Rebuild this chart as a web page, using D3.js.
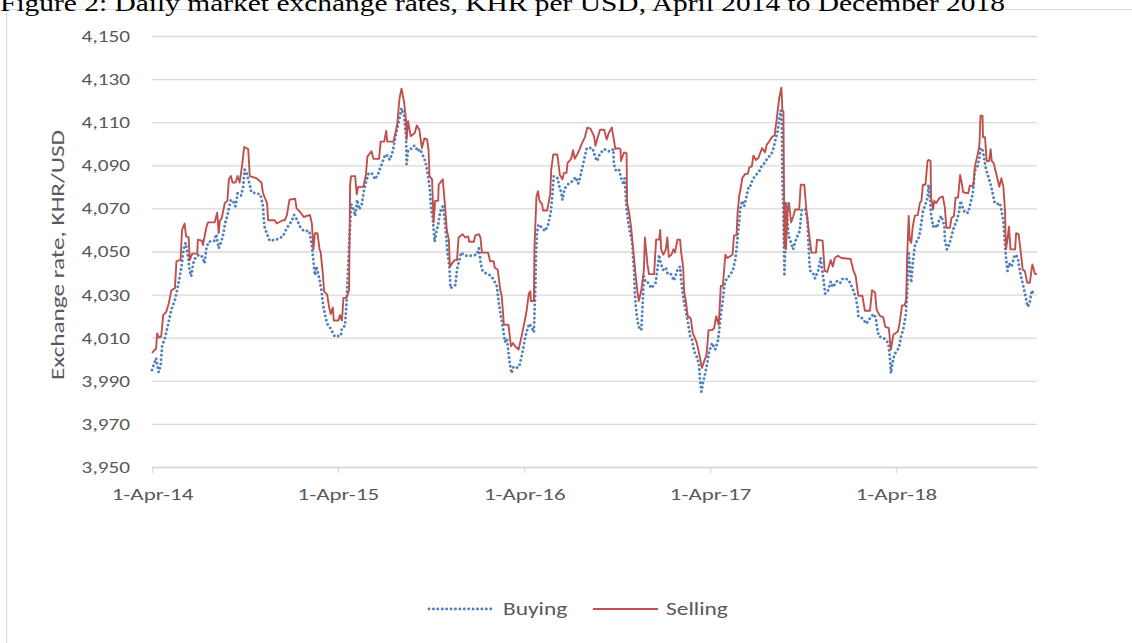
<!DOCTYPE html>
<html><head><meta charset="utf-8">
<script src="https://cdn.jsdelivr.net/npm/d3@7"></script>
<style>
body{margin:0;background:#fff;}
svg{display:block;}
</style></head>
<body>
<svg id="chart" width="1132" height="643"></svg>
<script>
// ---- DATA ----
const titleText = "Figure 2: Daily market exchange rates, KHR per USD, April 2014 to December 2018";
const yAxisTitle = "Exchange rate, KHR/USD";
const startDate = "2014-04-01";
const endDay = 1738; // last day shown, days since start
const seriesNames = ["Buying", "Selling"];
const yTicks = [3950, 3970, 3990, 4010, 4030, 4050, 4070, 4090, 4110, 4130, 4150];
const xTickDates = ["2014-04-01", "2015-04-01", "2016-04-01", "2017-04-01", "2018-04-01"];

// Selling rate: days since 1-Apr-14, KHR per USD
const sellDays = [0,8,10,14,18,22,28,33,38,45,48,56,59,64,67,72,74,79,89,90,98,100,107,110,123,128,131,133,137,143,148,151,155,158,164,168,172,177,181,189,192,205,215,218,226,228,241,245,257,261,265,270,281,284,292,298,310,314,317,320,325,329,331,335,338,344,348,351,355,357,366,369,373,376,382,387,389,391,399,402,405,415,420,423,431,435,446,449,456,460,462,474,479,482,486,490,495,499,500,503,508,516,520,525,530,535,540,543,545,550,553,556,562,563,571,575,579,583,585,594,599,602,610,615,621,623,632,635,642,645,648,660,664,671,673,679,684,687,691,700,705,709,713,720,727,733,736,740,743,744,750,751,755,758,761,766,768,776,782,784,788,796,801,806,809,814,816,823,827,830,835,840,843,850,855,861,868,871,874,880,888,893,897,903,907,910,915,920,921,927,932,933,937,941,945,950,953,956,961,966,968,973,976,986,990,996,998,1000,1004,1009,1012,1015,1020,1024,1027,1032,1037,1039,1043,1045,1049,1052,1058,1062,1065,1070,1075,1080,1085,1089,1093,1100,1104,1108,1113,1117,1121,1126,1130,1140,1143,1148,1150,1153,1157,1159,1165,1170,1173,1178,1181,1186,1191,1198,1204,1207,1212,1217,1223,1224,1227,1229,1232,1236,1238,1240,1242,1244,1245,1248,1251,1255,1259,1263,1271,1274,1281,1285,1291,1295,1304,1306,1317,1321,1326,1333,1337,1341,1347,1354,1372,1377,1382,1387,1395,1400,1410,1414,1420,1423,1430,1436,1440,1447,1451,1456,1460,1465,1468,1473,1478,1481,1483,1486,1488,1491,1494,1498,1504,1508,1511,1514,1519,1523,1525,1529,1530,1534,1536,1540,1547,1553,1557,1560,1567,1570,1575,1578,1583,1587,1590,1593,1603,1606,1613,1616,1621,1625,1627,1631,1632,1636,1639,1644,1647,1649,1653,1659,1664,1668,1672,1675,1677,1680,1683,1686,1695,1697,1702,1706,1710,1714,1719,1724,1727,1729,1734,1738];
const sellValues = [4003,4005,4012,4010,4010.5,4020.5,4022,4026,4032,4033,4045.5,4046,4060,4063,4057,4056.5,4046,4049,4049,4055.5,4055,4053,4061.5,4063.5,4063.5,4068,4058.5,4064,4065.5,4072.5,4073.5,4083.5,4085,4082,4082,4085,4082,4090,4098.5,4097.5,4085,4084,4082,4077,4072.5,4064.5,4064.5,4063,4064.5,4064.5,4067,4074,4074.5,4070,4068,4066,4067,4063,4051,4058.5,4058.5,4051,4050,4041,4031.5,4030,4024,4021,4024,4018,4018,4020.5,4018,4028.5,4028.5,4032,4081,4085,4085,4076.5,4080,4080,4085.5,4094,4096.5,4093,4093,4101,4101,4106,4101,4101,4106,4110,4121,4125.5,4119.5,4110.5,4102,4110.5,4103.5,4105,4108.5,4106.5,4098,4102.5,4102,4097.5,4085,4083.5,4063.5,4073.5,4073.5,4081,4083.5,4072.5,4060,4055.5,4043,4046,4046,4056.5,4058,4056.5,4057,4054.5,4054.5,4057.5,4058,4056.5,4049.5,4049.5,4045.5,4045.5,4042.5,4041.5,4032,4029,4016,4016,4006,4007.5,4006,4004.5,4012,4019,4023,4030.5,4031.5,4027,4027,4051,4075.5,4078,4073.5,4072,4069,4069,4076.5,4088,4095,4095,4085.5,4083.5,4086.5,4086.5,4091,4093,4097,4093,4095,4097.5,4099.5,4103,4107.5,4107,4103.5,4099,4102,4106.5,4106.5,4102,4105,4107.5,4102,4097.5,4098,4097.5,4092,4096,4095.5,4072.5,4068,4061,4051,4038.5,4032,4027,4032,4041.5,4056.5,4044,4039.5,4039.5,4055.5,4055.5,4060,4051,4048.5,4051,4056.5,4047.5,4048.5,4051,4049.5,4055.5,4055.5,4050,4043,4031.5,4026,4020,4019,4012,4010.5,4007.5,4002,3996,3999.5,4002,4013.5,4013.5,4014.5,4020,4016,4034,4034,4048.5,4047,4048.5,4057.5,4057.5,4068,4075.5,4080.5,4084,4086,4086,4089,4089.5,4094.5,4092.5,4093.5,4098,4096,4099.5,4101,4103,4104,4106.5,4111.5,4116,4121.5,4126,4115.5,4115,4052.5,4072.5,4051,4068,4072.5,4063.5,4066,4069.5,4069.5,4081,4081,4069.5,4057,4049.5,4049.5,4055.5,4055,4041,4040.5,4046,4043,4047,4048,4047,4046.5,4041.5,4038.5,4029.5,4029.5,4022.5,4022.5,4032,4031,4023,4020,4019.5,4015,4014.5,4004.5,4011.5,4012,4013,4016.5,4025,4025,4027.5,4047.5,4066.5,4055.5,4054,4061.5,4066.5,4067,4072.5,4073.5,4081,4081,4092,4092.5,4092,4075,4069.5,4073.5,4072.5,4075,4075.5,4070.5,4061,4061,4065.5,4066.5,4075,4075,4085.5,4082,4077.5,4077,4080.5,4080.5,4089.5,4094.5,4099.5,4113,4113,4103,4103,4092,4092,4097.5,4092,4091,4085,4080,4084,4080,4069.5,4051,4055.5,4061.5,4051,4051,4058.5,4058,4050,4041.5,4041,4035.5,4035.5,4041,4044,4039.5,4039.5];

// Buying rate: days since 1-Apr-14, KHR per USD
const buyDays = [0,8,13,17,20,25,31,38,45,51,58,62,66,71,74,77,81,85,92,97,100,103,107,111,123,126,131,135,139,144,148,151,155,160,164,168,172,175,179,182,185,189,192,195,205,213,218,219,221,226,231,244,257,265,274,279,283,291,298,309,314,317,320,323,329,333,336,340,344,350,359,371,373,379,382,384,386,389,391,395,399,403,407,412,416,420,425,431,438,444,451,458,462,467,473,477,482,486,490,495,499,500,503,508,513,517,522,527,532,535,538,542,546,548,551,555,558,562,566,571,574,578,580,584,586,596,599,607,615,625,638,642,645,648,655,664,671,677,682,686,689,693,697,702,706,710,715,721,727,732,736,741,745,750,751,753,754,756,759,764,772,778,783,786,789,797,799,804,806,810,816,825,832,837,841,847,854,865,870,874,880,888,896,901,906,907,911,917,922,926,928,930,932,935,939,943,945,947,948,950,953,956,961,964,966,970,974,981,989,993,996,999,1004,1009,1013,1019,1025,1032,1037,1039,1042,1045,1050,1054,1057,1060,1065,1070,1074,1076,1079,1081,1087,1091,1094,1100,1106,1111,1114,1117,1121,1124,1129,1135,1141,1146,1149,1153,1155,1159,1163,1167,1172,1175,1180,1186,1193,1198,1203,1209,1216,1220,1224,1229,1232,1235,1237,1238,1240,1242,1244,1246,1250,1255,1259,1263,1268,1272,1276,1283,1287,1291,1293,1298,1302,1308,1313,1317,1322,1327,1333,1337,1346,1352,1357,1367,1372,1377,1382,1386,1387,1395,1403,1410,1417,1421,1425,1428,1436,1441,1446,1449,1451,1454,1458,1462,1467,1471,1475,1480,1482,1484,1485,1486,1488,1491,1494,1498,1503,1507,1511,1514,1519,1523,1525,1528,1530,1534,1537,1542,1545,1550,1556,1557,1561,1566,1570,1575,1580,1585,1588,1592,1596,1603,1608,1612,1616,1621,1625,1627,1631,1634,1638,1642,1647,1651,1655,1660,1665,1668,1672,1675,1677,1680,1683,1688,1693,1697,1701,1705,1708,1713,1717,1719,1723,1728,1731];
const buyValues = [3995,4000.5,3994,3997,4006.5,4009.5,4015.5,4023,4027.5,4034,4043,4051,4054,4047.5,4041,4038.5,4044.5,4047,4048.5,4048,4047,4044.5,4051.5,4054.5,4055,4058,4051.5,4054,4057,4063.5,4066.5,4070,4074,4073,4071,4077,4076,4076,4080,4088,4087,4083.5,4081,4077.5,4077,4076.5,4071,4066.5,4061.5,4058,4055,4055.5,4057,4061,4064,4067,4065.5,4061.5,4059.5,4059.5,4052.5,4045.5,4039,4043,4037,4031.5,4025,4020.5,4016.5,4014.5,4010.5,4011,4014.5,4015.5,4026,4036,4047.5,4061.5,4072,4070,4066.5,4074,4069.5,4072,4078,4082,4086,4086.5,4083.5,4086,4090.5,4095,4094.5,4092.5,4096.5,4102,4107.5,4112,4116.5,4113,4103.5,4090.5,4097,4097.5,4099,4099,4096.5,4097.5,4094.5,4093,4090.5,4085.5,4078,4069.5,4066.5,4054.5,4058.5,4062.5,4068.5,4071,4066.5,4056.5,4050,4043,4033,4034.5,4041.5,4049.5,4048,4048,4048.5,4051.5,4045.5,4041.5,4040,4039,4037,4034,4024.5,4019,4015,4008,4009.5,3999,3993.5,3996.5,3996,3996.5,4002.5,4009,4013,4016.5,4015,4012.5,4020,4034,4047.5,4058.5,4062.5,4061.5,4059.5,4062.5,4068,4075.5,4085,4084,4081,4077,4074,4079,4081,4082.5,4084.5,4081.5,4084.5,4091,4098,4098,4094,4092,4095.5,4097.5,4096.5,4096.5,4097.5,4090.5,4087.5,4088,4083.5,4081,4084,4077,4070,4064,4058.5,4054.5,4046,4040,4032,4024.5,4018.5,4015,4013.5,4027.5,4038.5,4035.5,4035.5,4033,4035.5,4042.5,4048.5,4044.5,4041.5,4042.5,4039.5,4039.5,4036.5,4041.5,4043,4037,4031.5,4026,4020.5,4015,4010.5,4009.5,4003.5,4001,3998,3991,3985,3988,3994,3999,4003.5,4007.5,4004.5,4008,4013.5,4020.5,4027.5,4034.5,4037.5,4039,4041.5,4047,4054,4063.5,4069.5,4073.5,4071,4075,4080.5,4080.5,4083.5,4085.5,4087.5,4090,4091,4093.5,4095,4097.5,4101.5,4106,4111.5,4115.5,4109,4083.5,4068,4038.5,4057,4072.5,4057.5,4054,4051,4054.5,4057.5,4059.5,4069.5,4069.5,4065,4044.5,4041,4040,4037.5,4041,4047,4040,4030.5,4031.5,4036,4033.5,4036.5,4035.5,4037.5,4037,4035,4032,4029,4023.5,4020,4019,4016.5,4019,4021,4019.5,4013,4010.5,4010,4009,4007.5,4001,3993.5,3998,4002.5,4003.5,4005.5,4010.5,4013.5,4020,4026,4035.5,4044.5,4050,4044,4035.5,4044.5,4052.5,4055.5,4057,4063.5,4068.5,4072,4075,4081,4074,4067,4061.5,4062.5,4061,4064,4066.5,4062,4055.5,4051,4053.5,4057,4061.5,4064,4068.5,4073.5,4070.5,4068,4068,4073,4077,4087.5,4089.5,4093.5,4098,4097.5,4093.5,4088,4085,4081,4077,4072.5,4072,4072.5,4069.5,4063.5,4054,4047.5,4041,4044.5,4043,4047.5,4048.5,4046,4040,4037,4032,4027.5,4024.5,4025.5,4032,4030];

// ---- CHART ----
const svg = d3.select("#chart");
const W = 1132, H = 643;
const margin = {left: 152, right: W - 1037, top: 36, bottom: H - 467};
const font = "Carlito, Calibri, Lato, 'Open Sans', sans-serif";
const textColor = "#595959";
const gridColor = "#d9d9d9";

// widen glyphs horizontally (the reference's text is wide relative to its height)
function widen(sel, factor) {
  sel.each(function () {
    const w = this.getComputedTextLength();
    d3.select(this).attr("textLength", w * factor).attr("lengthAdjust", "spacingAndGlyphs");
  });
}

const parse = d3.timeParse("%Y-%m-%d");
const t0 = parse(startDate);
const toDate = d => d3.timeDay.offset(t0, d);

const x = d3.scaleTime()
  .domain([t0, toDate(endDay)])
  .range([margin.left, W - margin.right]);
const y = d3.scaleLinear()
  .domain([yTicks[0], yTicks[yTicks.length - 1]])
  .range([H - margin.bottom, margin.top]);

// outer chart frame
svg.append("rect")
  .attr("x", 6.5).attr("y", 9.5)
  .attr("width", W + 10).attr("height", H + 10)
  .attr("fill", "none").attr("stroke", gridColor).attr("stroke-width", 1);

// title (partially cut off at the top in the reference)
svg.append("text")
  .attr("x", 0).attr("y", 11)
  .attr("font-family", "'Liberation Serif', 'Times New Roman', serif")
  .attr("font-size", 24)
  .attr("fill", "#000")
  .attr("textLength", 1005)
  .attr("lengthAdjust", "spacingAndGlyphs")
  .text(titleText);

// horizontal gridlines + y axis labels
const yAxis = d3.axisLeft(y).tickValues(yTicks)
  .tickSize(-(W - margin.left - margin.right))
  .tickFormat(d3.format(","))
  .tickPadding(22);
const gy = svg.append("g").attr("transform", `translate(${margin.left},0)`).call(yAxis);
gy.select(".domain").remove();
gy.selectAll(".tick line").attr("stroke", gridColor).attr("stroke-width", 1.3);
gy.selectAll(".tick text").attr("fill", textColor).attr("font-family", font).attr("font-size", 17)
  .call(widen, 1.25);

// x axis
const xAxis = d3.axisBottom(x)
  .tickValues(xTickDates.map(parse))
  .tickFormat(d3.timeFormat("%-d-%b-%y"))
  .tickSize(6)
  .tickSizeOuter(0)
  .tickPadding(15);
const gx = svg.append("g").attr("transform", `translate(0,${H - margin.bottom})`).call(xAxis);
gx.select(".domain").attr("stroke", gridColor).attr("stroke-width", 1.3);
gx.selectAll(".tick line").attr("stroke", gridColor).attr("stroke-width", 1.3);
gx.selectAll(".tick text").attr("fill", textColor).attr("font-family", font).attr("font-size", 17)
  .call(widen, 1.35);

// y axis title
const yt = svg.append("text")
  .attr("transform", `translate(64,255) rotate(-90)`)
  .attr("text-anchor", "middle")
  .attr("font-family", font).attr("font-size", 19)
  .attr("fill", textColor)
  .text(yAxisTitle);
yt.attr("textLength", 250).attr("lengthAdjust", "spacingAndGlyphs");

// lines
const line = d3.line().x(d => x(toDate(d[0]))).y(d => y(d[1]));
const buyData = buyDays.map((d, i) => [d, buyValues[i]]);
const sellData = sellDays.map((d, i) => [d, sellValues[i]]);

const blue = "#4F81BD", red = "#C0504D";

svg.append("path").datum(buyData)
  .attr("d", line)
  .attr("fill", "none").attr("stroke", blue)
  .attr("stroke-width", 2.9)
  .attr("stroke-linecap", "round")
  .attr("stroke-dasharray", "0.01 4.4");

svg.append("path").datum(sellData)
  .attr("d", line)
  .attr("fill", "none").attr("stroke", red)
  .attr("stroke-width", 1.9)
  .attr("stroke-linejoin", "round");

// legend
const legY = 609;
const leg = svg.append("g");
leg.append("line").attr("x1", 429).attr("x2", 493).attr("y1", legY).attr("y2", legY)
  .attr("stroke", blue).attr("stroke-width", 2.9).attr("stroke-linecap", "round").attr("stroke-dasharray", "0.01 4.4");
leg.append("text").attr("x", 503).attr("y", legY + 6)
  .attr("font-family", font).attr("font-size", 18).attr("fill", textColor).text(seriesNames[0])
  .call(widen, 1.3);
leg.append("line").attr("x1", 593).attr("x2", 658).attr("y1", legY).attr("y2", legY)
  .attr("stroke", red).attr("stroke-width", 1.9);
leg.append("text").attr("x", 666).attr("y", legY + 6)
  .attr("font-family", font).attr("font-size", 18).attr("fill", textColor).text(seriesNames[1])
  .call(widen, 1.3);
</script>
</body></html>
